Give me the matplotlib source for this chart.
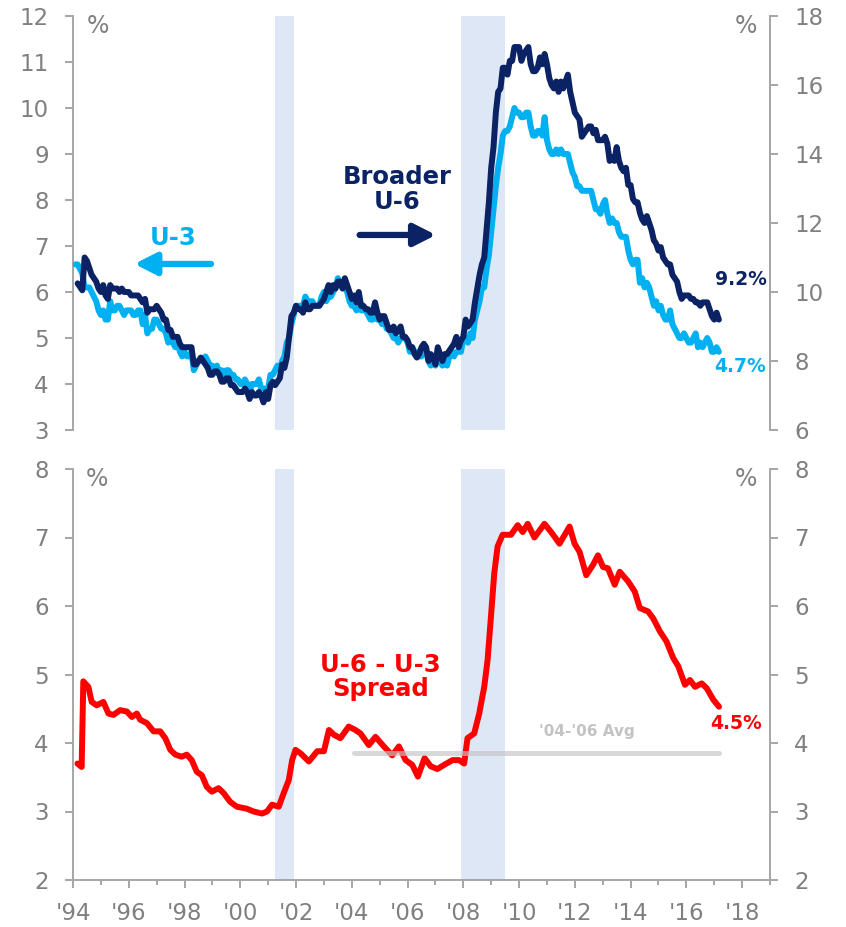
import numpy as np
import matplotlib
matplotlib.use("Agg")
import matplotlib.pyplot as plt
from matplotlib.patches import ArrowStyle

plt.rcParams['font.family'] = ['DejaVu Sans']

# ---------------- data ----------------
start_year = 1994
u3 = [
    6.6, 6.6, 6.5, 6.4, 6.1, 6.1, 6.1, 6.0, 5.9, 5.8, 5.6, 5.5,   # 1994
    5.6, 5.4, 5.4, 5.8, 5.6, 5.6, 5.7, 5.7, 5.6, 5.5, 5.6, 5.6,   # 1995
    5.6, 5.5, 5.5, 5.6, 5.6, 5.3, 5.5, 5.1, 5.2, 5.2, 5.4, 5.4,   # 1996
    5.3, 5.2, 5.2, 5.1, 4.9, 5.0, 4.9, 4.8, 4.9, 4.7, 4.6, 4.7,   # 1997
    4.6, 4.6, 4.7, 4.3, 4.4, 4.5, 4.5, 4.5, 4.6, 4.5, 4.4, 4.4,   # 1998
    4.3, 4.4, 4.2, 4.3, 4.2, 4.3, 4.3, 4.2, 4.2, 4.1, 4.1, 4.0,   # 1999
    4.0, 4.1, 4.0, 3.8, 4.0, 4.0, 4.0, 4.1, 3.9, 3.9, 3.9, 3.9,   # 2000
    4.2, 4.2, 4.3, 4.4, 4.3, 4.5, 4.6, 4.9, 5.0, 5.3, 5.5, 5.7,   # 2001
    5.7, 5.7, 5.7, 5.9, 5.8, 5.8, 5.8, 5.7, 5.7, 5.7, 5.9, 6.0,   # 2002
    5.8, 5.9, 5.9, 6.0, 6.1, 6.3, 6.2, 6.1, 6.1, 6.0, 5.8, 5.7,   # 2003
    5.7, 5.6, 5.8, 5.6, 5.6, 5.6, 5.5, 5.4, 5.4, 5.5, 5.4, 5.4,   # 2004
    5.3, 5.4, 5.2, 5.2, 5.1, 5.0, 5.0, 4.9, 5.0, 5.0, 5.0, 4.9,   # 2005
    4.7, 4.8, 4.7, 4.7, 4.6, 4.6, 4.7, 4.7, 4.5, 4.4, 4.5, 4.4,   # 2006
    4.6, 4.5, 4.4, 4.5, 4.4, 4.6, 4.7, 4.6, 4.7, 4.7, 4.7, 5.0,   # 2007
    5.0, 4.9, 5.1, 5.0, 5.4, 5.6, 5.8, 6.1, 6.1, 6.5, 6.8, 7.3,   # 2008
    7.8, 8.3, 8.7, 9.0, 9.4, 9.5, 9.5, 9.6, 9.8, 10.0, 9.9, 9.9,  # 2009
    9.8, 9.8, 9.9, 9.9, 9.6, 9.4, 9.4, 9.5, 9.5, 9.4, 9.8, 9.3,   # 2010
    9.1, 9.0, 9.0, 9.1, 9.0, 9.1, 9.0, 9.0, 9.0, 8.8, 8.6, 8.5,   # 2011
    8.3, 8.3, 8.2, 8.2, 8.2, 8.2, 8.2, 8.0, 7.8, 7.8, 7.7, 7.9,   # 2012
    8.0, 7.7, 7.5, 7.6, 7.5, 7.5, 7.3, 7.2, 7.2, 7.2, 6.9, 6.7,   # 2013
    6.6, 6.7, 6.7, 6.2, 6.3, 6.1, 6.2, 6.1, 5.9, 5.7, 5.8, 5.6,   # 2014
    5.7, 5.5, 5.4, 5.4, 5.6, 5.3, 5.2, 5.1, 5.0, 5.0, 5.1, 5.0,   # 2015
    4.9, 4.9, 5.0, 5.1, 4.8, 4.9, 4.8, 4.9, 5.0, 4.9, 4.7, 4.7,   # 2016
    4.8, 4.7,                                                     # 2017
]
u6 = [
    np.nan, 10.25, 10.15, 10.05, 11.0, 10.9, 10.7, 10.5, 10.4, 10.3, 10.1, 10.0,  # 1994
    10.2, 9.9, 9.8, 10.2, 10.1, 10.1, 10.1, 10.0, 10.1, 10.0, 10.0, 10.0,   # 1995
    9.9, 9.9, 9.9, 9.9, 9.8, 9.7, 9.8, 9.4, 9.5, 9.5, 9.5, 9.6,   # 1996
    9.5, 9.4, 9.2, 9.2, 8.9, 8.9, 8.7, 8.7, 8.7, 8.5, 8.4, 8.4,   # 1997
    8.4, 8.4, 8.4, 7.9, 7.9, 8.0, 8.1, 8.0, 7.9, 7.8, 7.6, 7.6,   # 1998
    7.7, 7.7, 7.6, 7.4, 7.4, 7.5, 7.5, 7.3, 7.3, 7.2, 7.1, 7.1,   # 1999
    7.1, 7.2, 7.1, 6.9, 7.1, 7.0, 7.0, 7.1, 7.0, 6.8, 7.1, 6.9,   # 2000
    7.3, 7.4, 7.3, 7.4, 7.5, 7.9, 7.8, 8.1, 8.7, 9.3, 9.4, 9.6,   # 2001
    9.5, 9.5, 9.4, 9.7, 9.5, 9.5, 9.6, 9.6, 9.6, 9.6, 9.7, 9.8,   # 2002
    10.0, 10.2, 10.0, 10.2, 10.1, 10.3, 10.3, 10.1, 10.4, 10.2, 10.0, 9.8,  # 2003
    9.9, 9.7, 10.0, 9.6, 9.6, 9.5, 9.5, 9.4, 9.4, 9.7, 9.4, 9.2,  # 2004
    9.3, 9.3, 9.1, 8.9, 8.9, 9.0, 8.8, 8.9, 9.0, 8.7, 8.7, 8.6,   # 2005
    8.4, 8.4, 8.2, 8.1, 8.2, 8.4, 8.5, 8.4, 8.0, 8.2, 8.1, 7.9,   # 2006
    8.4, 8.2, 8.0, 8.2, 8.2, 8.3, 8.4, 8.5, 8.7, 8.4, 8.6, 8.7,   # 2007
    9.2, 9.0, 9.1, 9.2, 9.7, 10.1, 10.5, 10.8, 11.0, 11.8, 12.6, 13.6,  # 2008
    14.2, 15.2, 15.8, 15.9, 16.5, 16.5, 16.3, 16.7, 16.7, 17.1, 17.1, 17.1,  # 2009
    16.7, 16.9, 17.0, 17.1, 16.6, 16.4, 16.4, 16.5, 16.8, 16.6, 16.9, 16.6,  # 2010
    16.2, 16.0, 15.9, 16.1, 15.8, 16.1, 15.9, 16.1, 16.3, 15.8, 15.5, 15.2,  # 2011
    15.1, 15.0, 14.5, 14.6, 14.7, 14.8, 14.8, 14.6, 14.7, 14.4, 14.4, 14.4,  # 2012
    14.5, 14.3, 13.8, 13.9, 13.8, 14.2, 13.8, 13.6, 13.5, 13.6, 13.1, 13.1,  # 2013
    12.7, 12.6, 12.6, 12.3, 12.1, 12.0, 12.2, 12.0, 11.8, 11.5, 11.4, 11.2,  # 2014
    11.3, 11.0, 10.9, 10.8, 10.8, 10.5, 10.4, 10.3, 10.0, 9.8, 9.9, 9.9,    # 2015
    9.9, 9.8, 9.8, 9.7, 9.7, 9.6, 9.7, 9.7, 9.7, 9.5, 9.3, 9.2,   # 2016
    9.4, 9.2,                                                     # 2017
]
spread_t = [1994.16, 1994.31, 1994.37, 1994.55, 1994.67, 1994.85, 1995.09, 1995.27,
            1995.45, 1995.69, 1995.93, 1996.11, 1996.29, 1996.41, 1996.65, 1996.89,
            1997.13, 1997.31, 1997.49, 1997.67, 1997.90, 1998.08, 1998.26, 1998.44,
            1998.62, 1998.80, 1998.98, 1999.22, 1999.40, 1999.64, 1999.88, 2000.24,
            2000.48, 2000.78, 2000.96, 2001.14, 2001.38, 2001.56, 2001.74, 2001.86,
            2001.98, 2002.16, 2002.46, 2002.76, 2003.00, 2003.18, 2003.36, 2003.59,
            2003.89, 2004.13, 2004.31, 2004.61, 2004.85, 2005.15, 2005.45, 2005.69,
            2005.93, 2006.17, 2006.37, 2006.61, 2006.83, 2007.07, 2007.31, 2007.61,
            2007.85, 2008.03, 2008.15, 2008.39, 2008.57, 2008.75, 2008.87, 2008.99,
            2009.11, 2009.23, 2009.41, 2009.71, 2009.95, 2010.13, 2010.31, 2010.55,
            2010.91, 2011.15, 2011.45, 2011.81, 2011.99, 2012.17, 2012.41, 2012.65,
            2012.83, 2013.01, 2013.19, 2013.43, 2013.61, 2013.91, 2014.15, 2014.33,
            2014.63, 2014.81, 2015.05, 2015.29, 2015.53, 2015.71, 2015.95, 2016.13,
            2016.31, 2016.55, 2016.73, 2016.97, 2017.17]
spread_v = [3.70, 3.65, 4.90, 4.82, 4.60, 4.55, 4.60, 4.43,
            4.41, 4.48, 4.46, 4.38, 4.43, 4.34, 4.29, 4.17,
            4.17, 4.07, 3.90, 3.83, 3.80, 3.83, 3.75, 3.58,
            3.53, 3.36, 3.29, 3.34, 3.27, 3.14, 3.07, 3.04,
            3.00, 2.97, 3.00, 3.10, 3.07, 3.27, 3.46, 3.75,
            3.90, 3.85, 3.73, 3.88, 3.88, 4.19, 4.12, 4.07,
            4.24, 4.19, 4.14, 3.97, 4.09, 3.95, 3.82, 3.95,
            3.75, 3.68, 3.51, 3.78, 3.66, 3.62, 3.68, 3.75,
            3.75, 3.70, 4.07, 4.14, 4.43, 4.82, 5.21, 5.84,
            6.48, 6.87, 7.04, 7.04, 7.18, 7.08, 7.20, 7.00,
            7.20, 7.08, 6.91, 7.16, 6.91, 6.79, 6.45, 6.60,
            6.74, 6.57, 6.55, 6.31, 6.50, 6.36, 6.21, 5.97,
            5.92, 5.82, 5.63, 5.48, 5.24, 5.12, 4.85, 4.92,
            4.82, 4.87, 4.80, 4.63, 4.53]
avg_label = "'04-'06 Avg"
avg_value = 3.86
avg_span = (2004.08, 2017.17)
recessions = [(2001.25, 2001.92), (2007.92, 2009.5)]
year_ticks = list(range(1994, 2020))
year_labels = ["'%02d" % (y % 100) if y % 2 == 0 else "" for y in year_ticks]

# ---------------- style ----------------
NAVY = '#0b2265'
LBLUE = '#00b0f0'
RED = '#ff0000'
GRAY = '#808080'
SPINE = '#a6a6a6'
SHADE = '#dde7f5'
LW = 4.3
TICKFS = 16.5

months = np.arange(len(u3))
t = start_year + (months + 1) / 12.0

fig = plt.figure(figsize=(8.46, 9.27), dpi=100)
W, H = 846, 927
ax1 = fig.add_axes([73 / W, 1 - 430 / H, (770 - 73) / W, (430 - 16) / H])
ax3 = fig.add_axes([73 / W, 1 - 880 / H, (770 - 73) / W, (880 - 469) / H])


def style_axis(ax):
    for s in ax.spines.values():
        s.set_color(SPINE)
        s.set_linewidth(1.4)
    ax.tick_params(axis='both', colors=SPINE, labelcolor=GRAY, labelsize=TICKFS,
                   length=5.5, width=1.4, direction='out')


# --- top panel ---
for a, b in recessions:
    ax1.axvspan(a, b, color=SHADE, lw=0, zorder=0)
ax1.plot(t, u3, color=LBLUE, lw=LW, solid_joinstyle='round', solid_capstyle='round', zorder=3)
ax1.set_xlim(1994, 2019)
ax1.set_ylim(3, 12)
ax1.set_yticks(range(3, 13))
style_axis(ax1)
ax1.tick_params(axis='y', pad=12)
ax1.spines['top'].set_visible(False)
ax1.spines['bottom'].set_visible(False)
ax1.set_xticks([])
ax1.patch.set_alpha(0)

ax2 = ax1.twinx()
ax2.plot(t, u6, color=NAVY, lw=LW, solid_joinstyle='round', solid_capstyle='round', zorder=4)
ax2.set_ylim(6, 18)
ax2.set_yticks(range(6, 19, 2))
style_axis(ax2)
ax2.tick_params(axis='y', pad=12)
ax2.spines['top'].set_visible(False)
ax2.spines['bottom'].set_visible(False)
ax2.spines['left'].set_visible(False)

ax1.text(0.036, 0.976, '%', transform=ax1.transAxes, ha='center', va='center',
         fontsize=TICKFS + 0.5, color=GRAY)
ax1.text(0.965, 0.976, '%', transform=ax1.transAxes, ha='center', va='center',
         fontsize=TICKFS + 0.5, color=GRAY)

ax1.text(1997.58, 7.17, 'U-3', color=LBLUE, fontsize=17.5, fontweight='bold',
         ha='center', va='center', zorder=6)
ax1.annotate('', xy=(1996.2, 6.61), xytext=(1998.95, 6.61),
             arrowprops=dict(arrowstyle=ArrowStyle('-|>', head_length=0.65, head_width=0.33),
                             color=LBLUE, lw=4.5, mutation_scale=20, shrinkA=0, shrinkB=0))
ax1.text(2005.64, 8.22, 'Broader\nU-6', color=NAVY, fontsize=17.5, fontweight='bold',
         ha='center', va='center', linespacing=1.05, zorder=6)
ax1.annotate('', xy=(2007.02, 7.24), xytext=(2004.28, 7.24),
             arrowprops=dict(arrowstyle=ArrowStyle('-|>', head_length=0.65, head_width=0.33),
                             color=NAVY, lw=4.5, mutation_scale=20, shrinkA=0, shrinkB=0))
ax1.text(2017.95, 6.28, '9.2%', color=NAVY, fontsize=13.5, fontweight='bold',
         ha='center', va='center', zorder=6)
ax1.text(2017.93, 4.37, '4.7%', color=LBLUE, fontsize=13.5, fontweight='bold',
         ha='center', va='center', zorder=6)

# --- bottom panel ---
for a, b in recessions:
    ax3.axvspan(a, b, color=SHADE, lw=0, zorder=0)
ax3.plot(spread_t, spread_v, color=RED, lw=LW, solid_joinstyle='round',
         solid_capstyle='round', zorder=3)
ax3.plot(avg_span, [avg_value, avg_value], color='#c4c4c4', alpha=0.65, lw=3.6,
         solid_capstyle='round', zorder=4)
ax3.set_xlim(1994, 2019)
ax3.set_ylim(2, 8)
ax3.set_yticks(range(2, 9))
ax3.set_xticks(year_ticks)
ax3.set_xticklabels(year_labels)
style_axis(ax3)
ax3.spines['top'].set_visible(False)
ax3.tick_params(axis='y', pad=12, right=True, labelright=True)
ax3.tick_params(axis='x', pad=10)
# shorter ticks for odd years
for tk, y in zip(ax3.xaxis.get_major_ticks(), year_ticks):
    if y % 2 == 1:
        tk.tick1line.set_markersize(3.5)
ax3.text(0.034, 0.976, '%', transform=ax3.transAxes, ha='center', va='center',
         fontsize=TICKFS + 0.5, color=GRAY)
ax3.text(0.965, 0.976, '%', transform=ax3.transAxes, ha='center', va='center',
         fontsize=TICKFS + 0.5, color=GRAY)
ax3.text(2005.03, 4.97, 'U-6 - U-3\nSpread', color=RED, fontsize=17.5, fontweight='bold',
         ha='center', va='center', linespacing=1.0, zorder=6)
ax3.text(2012.43, 4.175, avg_label, color='#c3c3c3', fontsize=11, fontweight='bold',
         ha='center', va='center', zorder=6)
ax3.text(2017.8, 4.29, '4.5%', color=RED, fontsize=13.5, fontweight='bold',
         ha='center', va='center', zorder=6)

fig.savefig('out.png', dpi=100)
